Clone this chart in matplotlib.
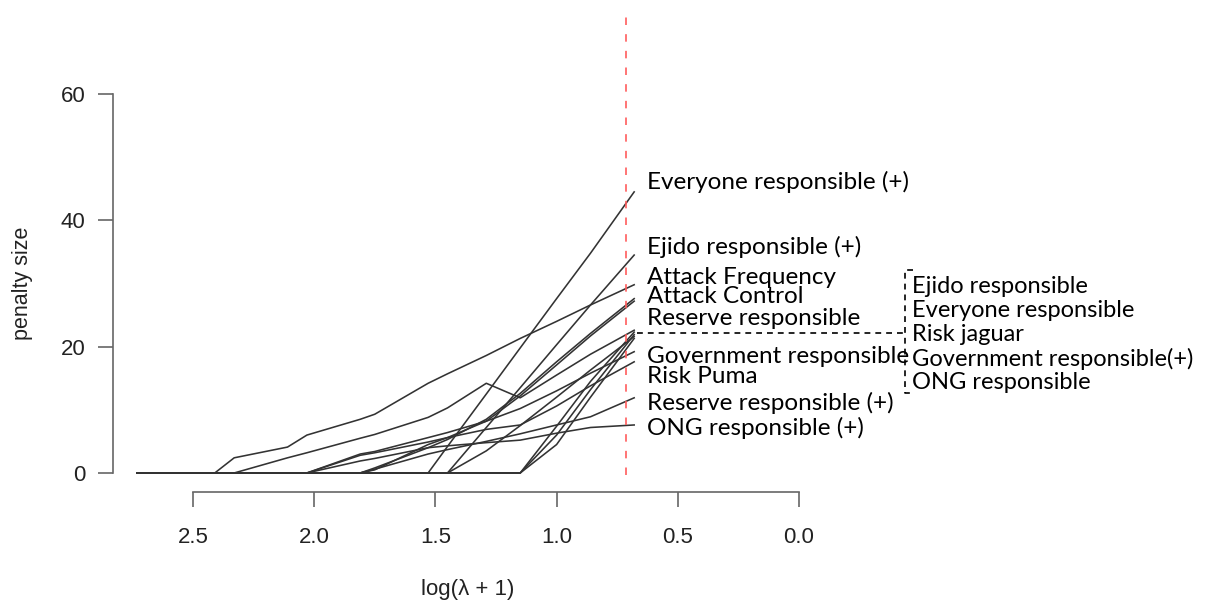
import matplotlib.pyplot as plt

# log(lambda + 1) grid (left = strongest penalty)
log_lambda = [2.73, 2.41, 2.33, 2.11, 2.03, 1.81, 1.75, 1.53, 1.45, 1.29, 1.15, 1.00, 0.86, 0.68]

# coefficient paths (penalty size) at each grid point
everyone_pos = [0, 0, 0, 0, 0, 0, 0, 0, 4.2, 12.5, 19.8, 27.6, 34.8, 44.5]
ejido_pos = [0, 0, 0, 0, 0, 0, 0, 0, 0, 7.2, 13.5, 20.3, 26.6, 34.5]
attack_freq = [0, 0, 2.4, 4.1, 6.0, 8.5, 9.3, 14.2, 15.7, 18.6, 21.3, 24.0, 26.6, 29.8]
attack_ctrl = [0, 0, 0, 0, 0, 0, 0.8, 4.0, 5.3, 8.5, 12.6, 17.6, 22.1, 27.6]
reserve = [0, 0, 0, 0, 0, 0, 0.5, 4.5, 5.6, 8.2, 12.2, 17.1, 21.7, 27.2]
government = [0, 0, 0, 0, 0, 3.0, 3.4, 5.6, 6.4, 8.2, 10.2, 13.0, 15.8, 19.2]
risk_puma = [0, 0, 0, 0, 0, 2.8, 3.2, 4.9, 5.6, 6.9, 7.6, 10.6, 13.8, 17.6]
reserve_pos = [0, 0, 0, 0, 0, 0, 0.6, 3.0, 3.7, 5.0, 6.2, 7.6, 8.9, 11.9]
ong_pos = [0, 0, 0, 0, 0, 1.9, 2.3, 4.0, 4.3, 4.8, 5.2, 6.3, 7.2, 7.6]
ejido = [0, 0, 0, 2.4, 3.2, 5.5, 6.1, 8.8, 10.3, 14.2, 11.9, 15.5, 18.8, 22.6]
everyone = [0, 0, 0, 0, 0, 0, 0, 0, 0, 0, 0, 7.4, 14.5, 22.3]
risk_jaguar = [0, 0, 0, 0, 0, 0, 0, 0, 0, 0, 0, 6.0, 13.2, 21.9]
government_pos = [0, 0, 0, 0, 0, 0, 0, 0, 0, 3.5, 7.5, 12.0, 16.3, 21.6]
ong = [0, 0, 0, 0, 0, 0, 0, 0, 0, 0, 0, 4.5, 12.0, 21.3]

paths = [everyone_pos, ejido_pos, attack_freq, attack_ctrl, reserve, government,
         risk_puma, reserve_pos, ong_pos, ejido, everyone, risk_jaguar,
         government_pos, ong]

side_labels = ["Everyone responsible (+)", "Ejido responsible (+)", "Attack Frequency",
               "Attack Control", "Reserve responsible", "Government responsible",
               "Risk Puma", "Reserve responsible (+)", "ONG responsible (+)"]
group_labels = ["Ejido responsible", "Everyone responsible", "Risk jaguar",
                "Government responsible(+)", "ONG responsible"]

cutoff = 0.714  # selected log(lambda + 1)

# label layout (data units)
side_y = [46.1, 35.8, 31.0, 27.9, 24.5, 18.4, 15.2, 11.1, 7.1]
group_y = [29.5, 25.8, 21.9, 18.1, 14.4]

fig = plt.figure(figsize=(12.32, 6.05), dpi=100)
ax = fig.add_axes([0.0917, 0.1868, 0.5779, 0.6826])

for p in paths:
    ax.plot(log_lambda, p, color="#333333", lw=1.15)

ax.vlines(cutoff, -0.3, 72.8, colors="#ff5c5c", lw=1.2, linestyles=(0, (4.5, 5.5)),
          clip_on=False)

ax.set_xlim(2.830, -0.107)
ax.set_ylim(-3.01, 62.37)

for s in ["top", "right"]:
    ax.spines[s].set_visible(False)
ax.spines["left"].set_bounds(0, 60)
ax.spines["bottom"].set_bounds(0, 2.5)
for s in ["left", "bottom"]:
    ax.spines[s].set_color("#666666")
    ax.spines[s].set_linewidth(1.2)

ax.set_xticks([2.5, 2.0, 1.5, 1.0, 0.5, 0.0])
ax.set_xticklabels(["2.5", "2.0", "1.5", "1.0", "0.5", "0.0"])
ax.set_yticks([0, 20, 40, 60])
ax.tick_params(axis="both", length=11, width=1.2, color="#666666",
               labelsize=16, labelcolor="#222222")
ax.tick_params(axis="x", pad=14)
ax.tick_params(axis="y", pad=9)
for t in ax.get_xticklabels() + ax.get_yticklabels():
    t.set_fontfamily("Liberation Sans")

fig.text(0.018, 0.532, "penalty size", rotation=90, ha="center", va="center",
         fontsize=15.5, family="Liberation Sans", color="#222222")
fig.text(0.380, 0.025, "log(λ + 1)", ha="center", va="center",
         fontsize=16, family="Liberation Sans", color="#222222")

for lab, y in zip(side_labels, side_y):
    ax.text(0.627, y, lab, ha="left", va="center", fontsize=17.5,
            family="Lato", clip_on=False)

# bracket grouping the five paths that meet near the cutoff
ax.plot([0.668, -0.437], [22.2, 22.2], color="black", lw=1.2,
        linestyle=(0, (3.5, 3)), clip_on=False)
ax.plot([-0.470, -0.437, -0.437, -0.475], [32.1, 32.1, 12.7, 12.7], color="black",
        lw=1.2, linestyle=(0, (3.5, 3)), clip_on=False)
for lab, y in zip(group_labels, group_y):
    ax.text(-0.465, y, lab, ha="left", va="center", fontsize=17,
            family="Lato", clip_on=False)

fig.savefig("out.png", dpi=100)
